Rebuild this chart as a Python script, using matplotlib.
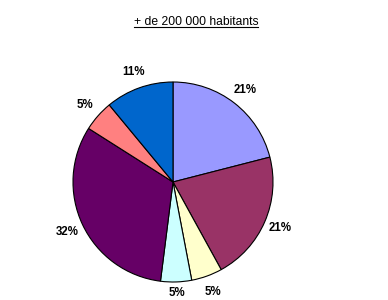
import matplotlib
matplotlib.use("Agg")
import matplotlib.pyplot as plt
from matplotlib.lines import Line2D

title = "+ de 200 000 habitants"
values = [21, 21, 5, 5, 32, 5, 11]
labels = ["21%", "21%", "5%", "5%", "32%", "5%", "11%"]
colors = ["#9999FF", "#993366", "#FFFFCC", "#CCFFFF", "#660066", "#FF8080", "#0066CC"]

W, H = 388, 300
fig = plt.figure(figsize=(W / 100, H / 100), dpi=100)
fig.patch.set_facecolor("white")

cx, cy, r = 173, 182, 100
ax = fig.add_axes([(cx - r) / W, (H - cy - r) / H, 2 * r / W, 2 * r / H])
ax.pie(values, colors=colors, startangle=90, counterclock=False,
       wedgeprops=dict(edgecolor="black", linewidth=0.8),
       labels=labels, labeldistance=1.17,
       textprops=dict(fontsize=8.3, fontweight="bold", family="Liberation Sans",
                      ha="center", va="center"))
for t in ax.texts:
    t.set_ha("center")
    t.set_va("center")
ax.set_xlim(-1, 1)
ax.set_ylim(-1, 1)
ax.set_aspect("equal")
ax.axis("off")

t = fig.text(196 / W, 1 - 25 / H, title, ha="center", va="baseline",
             fontsize=8.7, family="Liberation Sans")
fig.canvas.draw()
renderer = fig.canvas.get_renderer()

# keep pie labels inside the figure
for lab in ax.texts:
    lb = lab.get_window_extent(renderer=renderer)
    if lb.y0 < 1.0:
        dy = 1.0 - lb.y0
        px = ax.transData.transform(lab.get_position())
        lab.set_position(ax.transData.inverted().transform((px[0], px[1] + dy)))

bb = t.get_window_extent(renderer=renderer)
y_line = 1 - 27 / H
fig.add_artist(Line2D([bb.x0 / W, bb.x1 / W], [y_line, y_line],
                      transform=fig.transFigure, color="black", linewidth=0.8))

fig.savefig("out.png", dpi=100)
